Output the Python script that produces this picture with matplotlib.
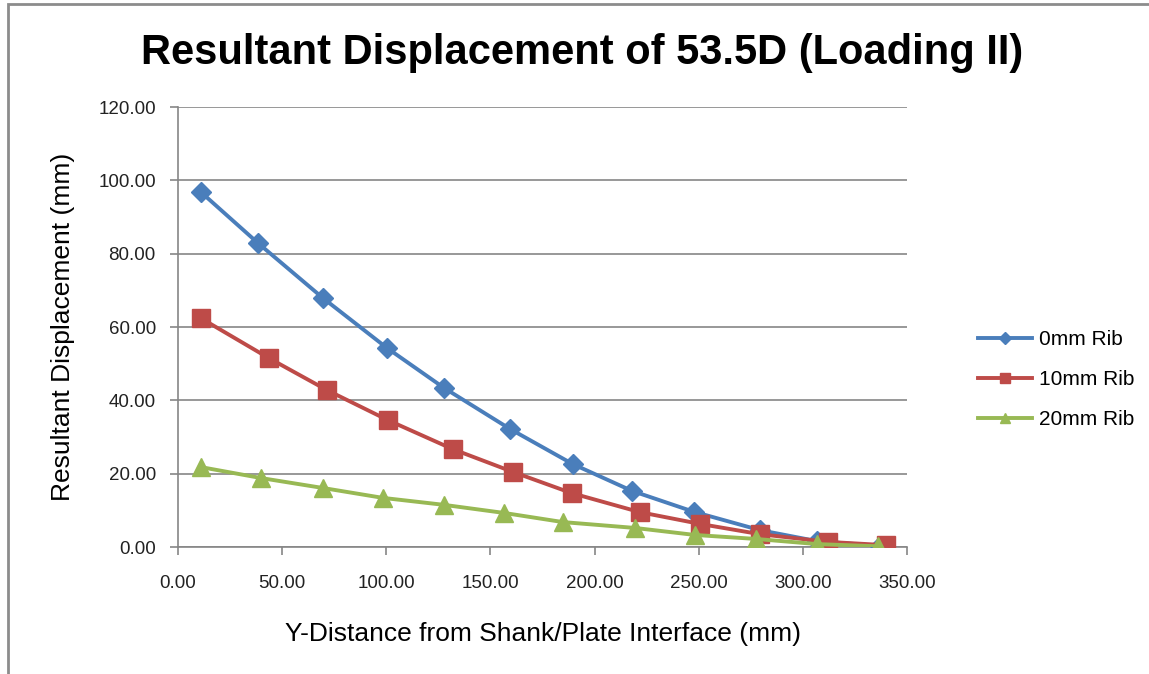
import matplotlib.pyplot as plt
import matplotlib.patches as patches

plt.rcParams['font.family'] = ['Liberation Sans', 'DejaVu Sans']

# Y-distance (mm) and resultant displacement (mm) for each rib size
x_0mm = [11.0, 38.4, 69.6, 100.3, 127.7, 159.4, 189.6, 218.0, 247.7, 279.4, 306.8, 337.0]
y_0mm = [96.8, 82.9, 67.9, 54.3, 43.4, 32.2, 22.6, 15.3, 9.6, 4.6, 1.6, 0.3]

x_10mm = [11.0, 43.7, 71.5, 100.8, 131.9, 160.7, 189.0, 221.8, 250.6, 279.4, 312.0, 340.0]
y_10mm = [62.4, 51.5, 42.8, 34.6, 26.7, 20.5, 14.7, 9.5, 6.3, 3.5, 1.4, 0.5]

x_20mm = [11.0, 40.0, 69.6, 98.4, 127.7, 156.5, 184.8, 219.4, 248.0, 277.5, 306.8, 336.0]
y_20mm = [21.8, 18.8, 16.1, 13.4, 11.5, 9.3, 6.8, 5.2, 3.3, 2.2, 0.8, 0.2]

labels = ['0mm Rib', '10mm Rib', '20mm Rib']

fig = plt.figure(figsize=(11.49, 6.74), dpi=100)
ax = fig.add_axes([0.1549, 0.1884, 0.7894 - 0.1549, 0.8412 - 0.1884])

# chart border (top and left edges)
fig.add_artist(patches.Rectangle((0.007, -0.01), 1.1, 1.0035,
                                 transform=fig.transFigure, fill=False,
                                 edgecolor='#8c8c8c', linewidth=2.0))

ax.plot(x_0mm, y_0mm, color='#4A7EBB', lw=2.8, marker='D', ms=10,
        markeredgecolor='#4A7EBB', label=labels[0], zorder=3)
ax.plot(x_10mm, y_10mm, color='#BE4B48', lw=2.8, marker='s', ms=13,
        markeredgecolor='#BE4B48', label=labels[1], zorder=4)
ax.plot(x_20mm, y_20mm, color='#98B954', lw=2.8, marker='^', ms=13,
        markeredgecolor='#98B954', label=labels[2], zorder=5)

ax.set_xlim(0, 350)
ax.set_ylim(0, 120)
ax.set_xticks(range(0, 351, 50))
ax.set_yticks(range(0, 121, 20))
ax.xaxis.set_major_formatter(lambda v, p: f'{v:.2f}')
ax.yaxis.set_major_formatter(lambda v, p: f'{v:.2f}')
ax.tick_params(axis='both', labelsize=13.5, colors='#868686', length=6,
               width=1.2, labelcolor='#222222')
ax.tick_params(axis='x', pad=14)
ax.tick_params(axis='y', pad=10)

ax.grid(axis='y', color='#868686', linewidth=1.2)
ax.set_axisbelow(True)
for side in ['top', 'right']:
    ax.spines[side].set_visible(False)
for side in ['left', 'bottom']:
    ax.spines[side].set_color('#868686')
    ax.spines[side].set_linewidth(1.2)

ax.set_xlabel('Y-Distance from Shank/Plate Interface (mm)', fontsize=19,
              labelpad=22)
ax.set_ylabel('Resultant Displacement (mm)', fontsize=19, labelpad=17)

fig.text(0.507, 0.922, 'Resultant Displacement of 53.5D (Loading II)',
         ha='center', va='center', fontsize=30, fontweight='bold')

ax.legend(loc='center left', bbox_to_anchor=(0.835, 0.437),
          bbox_transform=fig.transFigure, frameon=False, fontsize=15,
          handlelength=2.6, labelspacing=1.0, markerscale=0.6,
          handletextpad=0.3)

fig.savefig('out.png', dpi=100)
